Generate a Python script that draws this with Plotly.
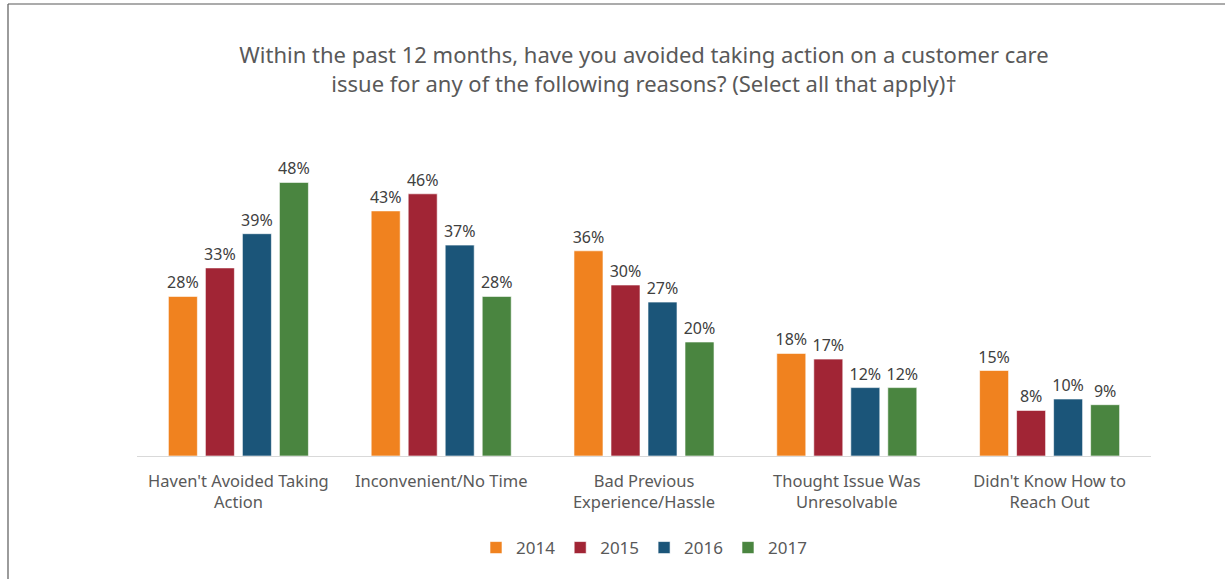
import plotly.graph_objects as go

categories = [
    "Haven't Avoided Taking<br>Action",
    "Inconvenient/No Time",
    "Bad Previous<br>Experience/Hassle",
    "Thought Issue Was<br>Unresolvable",
    "Didn't Know How to<br>Reach Out",
]
years = ["2014", "2015", "2016", "2017"]
values_2014 = [28, 43, 36, 18, 15]
values_2015 = [33, 46, 30, 17, 8]
values_2016 = [39, 37, 27, 12, 10]
values_2017 = [48, 28, 20, 12, 9]
colors = ["#F0821F", "#A12535", "#1B5579", "#4A8540"]

series = [values_2014, values_2015, values_2016, values_2017]

W, H = 1225, 579
ML, MR, MT, MB = 137, 74, 171, 123
plot_w = W - ML - MR
plot_h = H - MT - MB

FONT = "Noto Sans"

fig = go.Figure()
for name, vals, col in zip(years, series, colors):
    fig.add_trace(go.Bar(
        x=categories, y=vals, name=name,
        marker=dict(color=col, line=dict(color="rgba(255,255,255,0.6)", width=1)),
        text=[f"{v}%" for v in vals],
        textposition="outside",
        constraintext="none",
        textfont=dict(family=FONT, size=16, color="#404040"),
        cliponaxis=False,
    ))

# outer frame (left and top edges)
x_left = (8 - ML) / plot_w
x_right = (W + 5 - ML) / plot_w
y_top = (H - MB - 4) / plot_h
y_bottom = (H - MB - (H + 5)) / plot_h
fig.add_shape(type="line", xref="paper", yref="paper",
              x0=x_left, x1=x_left, y0=y_bottom, y1=y_top,
              line=dict(color="#595959", width=1.2))
fig.add_shape(type="line", xref="paper", yref="paper",
              x0=x_left, x1=x_right, y0=y_top, y1=y_top,
              line=dict(color="#595959", width=1.2))

fig.update_layout(
    width=W, height=H,
    margin=dict(l=ML, r=MR, t=MT, b=MB),
    paper_bgcolor="white", plot_bgcolor="white",
    barmode="group", bargap=0.27, bargroupgap=0.216,
    font=dict(family=FONT, color="#595959"),
    title=dict(
        text="Within the past 12 months, have you avoided taking action on a customer care<br>issue for any of the following reasons? (Select all that apply)†",
        x=0.5, xref="paper", xanchor="center",
        y=1 - 63 / H, yref="container", yanchor="middle",
        font=dict(family=FONT, size=22, color="#595959"),
    ),
    xaxis=dict(
        showline=True, linecolor="#D9D9D9", linewidth=1,
        ticks="", tickfont=dict(family=FONT, size=16.5, color="#595959"),
        ticklabelstandoff=10,
        showgrid=False,
    ),
    yaxis=dict(range=[0, 50], visible=False, showgrid=False),
    legend=dict(
        orientation="h", x=0.5, xanchor="center",
        y=(H - MB - 548) / plot_h, yanchor="middle",
        font=dict(family=FONT, size=17, color="#595959"),
        itemwidth=30, traceorder="normal",
    ),
    showlegend=True,
)

fig.write_html("out.html")
